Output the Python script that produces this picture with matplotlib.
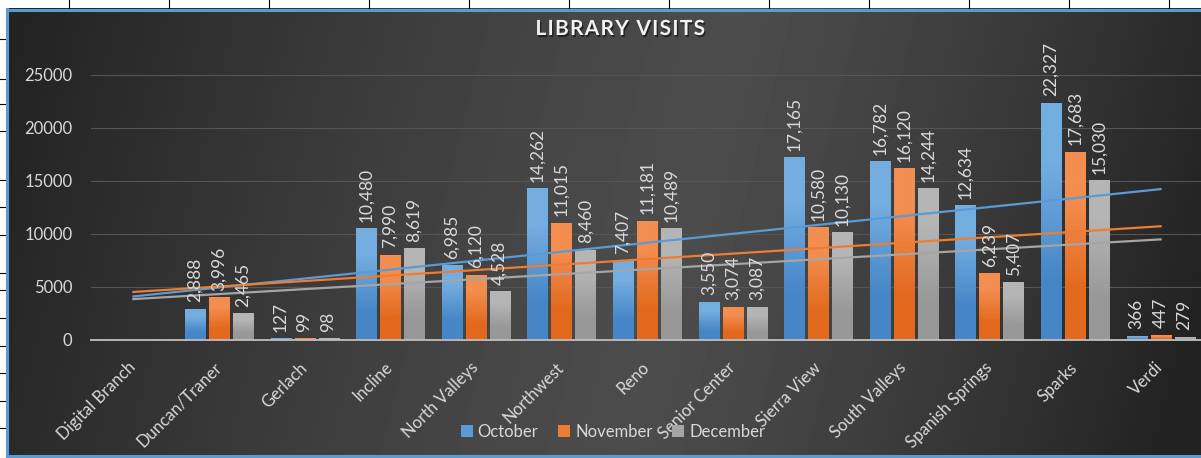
import numpy as np
import matplotlib
matplotlib.use('Agg')
import matplotlib.pyplot as plt
import matplotlib.patheffects as pe
from matplotlib.patches import Patch

plt.rcParams['font.family'] = ['Lato', 'DejaVu Sans']

# data (Digital Branch has no values)
branches = ['Digital Branch', 'Duncan/Traner', 'Gerlach', 'Incline', 'North Valleys',
            'Northwest', 'Reno', 'Senior Center', 'Sierra View', 'South Valleys',
            'Spanish Springs', 'Sparks', 'Verdi']
october = [np.nan, 2888, 127, 10480, 6985, 14262, 7407, 3550, 17165, 16782, 12634, 22327, 366]
november = [np.nan, 3996, 99, 7990, 6120, 11015, 11181, 3074, 10580, 16120, 6239, 17683, 447]
december = [np.nan, 2465, 98, 8619, 4528, 8460, 10489, 3087, 10130, 14244, 5407, 15030, 279]
months = ['October', 'November', 'December']
y_ticks = [0, 5000, 10000, 15000, 20000, 25000]

series = [october, november, december]
base_cols = ['#5B9BD5', '#ED7D31', '#A5A5A5']
grad_cols = [('#74ade0', '#4686c7'), ('#f38d50', '#e2691d'), ('#b5b5b5', '#989898')]
txt_col = '#d9d9d9'

W, H = 1201, 458
fig = plt.figure(figsize=(W / 100, H / 100), dpi=100, facecolor='white')

# background: spreadsheet strip + dark gradient chart area
bg = fig.add_axes([0, 0, 1, 1])
bg.set_xlim(0, W)
bg.set_ylim(H, 0)
bg.axis('off')
X, Y = np.meshgrid(np.arange(8, W), np.arange(9, 456))
xe = X + 0.25 * (Y - 230)
d = xe - 680
t = np.clip(np.where(d < 0, -d / 720, d / 540), 0, 1)
v = (0x22 + (0x4c - 0x22) * (1 - t ** 1.3)) / 255
bg.imshow(v, cmap='gray', vmin=0, vmax=1, extent=(8, W, 455.5, 9), aspect='auto',
          interpolation='bilinear')
for gx in range(69, W, 100):
    bg.plot([gx, gx], [0, 8], color='black', lw=0.8)
for gy in [39, 79, 104, 131, 180, 207, 235, 273, 290, 318, 346, 373, 401, 428]:
    bg.plot([0, 6], [gy, gy], color='black', lw=0.8)
bg.plot([7, 7], [9, 456], color='#5B9BD5', lw=2.2)
bg.plot([7, W], [9.5, 9.5], color='#5B9BD5', lw=2.2)
bg.plot([7, W], [455.5, 455.5], color='#5B9BD5', lw=2.2)

# main chart
ax = fig.add_axes([90.6 / W, 118 / H, (1203.4 - 90.6) / W, 291.9 / H])
ax.patch.set_alpha(0)
x = np.arange(1, len(branches) + 1)
offs = [-0.28, 0, 0.28]
bw = 0.234

for s, vals in enumerate(series):
    g = np.array([[matplotlib.colors.to_rgb(grad_cols[s][0])],
                  [matplotlib.colors.to_rgb(grad_cols[s][1])]])
    for xi, val in zip(x, vals):
        if np.isnan(val):
            continue
        x0 = xi + offs[s] - bw / 2
        ax.imshow(g, extent=(x0, x0 + bw, 0, val), aspect='auto',
                  interpolation='bilinear', zorder=2)
        ax.annotate(f'{val:,.0f}', (xi + offs[s], val), xytext=(0, 5),
                    textcoords='offset points', rotation=90, ha='center', va='bottom',
                    fontsize=12.5, color=txt_col, zorder=5)

# linear trendlines
for s, vals in enumerate(series):
    arr = np.array(vals, dtype=float)
    m = ~np.isnan(arr)
    coef = np.polyfit(x[m], arr[m], 1)
    ax.plot([x[0], x[-1]], np.polyval(coef, [x[0], x[-1]]), color=base_cols[s],
            lw=1.6, zorder=4)

ax.set_xlim(0.5, len(branches) + 0.5)
ax.set_ylim(0, 27500)
ax.set_yticks(y_ticks)
ax.grid(axis='y', color='#555555', lw=0.8, zorder=1)
ax.set_axisbelow(True)
for sp in ['top', 'right', 'left']:
    ax.spines[sp].set_visible(False)
ax.spines['bottom'].set_color('#bfbfbf')
ax.spines['bottom'].set_linewidth(1.3)
ax.spines['bottom'].set_zorder(3)
ax.tick_params(axis='both', length=0, colors=txt_col)
ax.tick_params(axis='y', pad=13, labelsize=12)
ax.tick_params(axis='x', pad=18, labelsize=12)
ax.set_xticks(x)
ax.set_xticklabels(branches, rotation=45, ha='right', va='center', rotation_mode='anchor')

handles = [Patch(facecolor=c) for c in base_cols]
fig.legend(handles, months, loc='center', bbox_to_anchor=(613 / W, 1 - 432 / H), ncol=3,
           frameon=False, fontsize=12, labelcolor=txt_col, handlelength=0.7,
           handleheight=0.7, handletextpad=0.3, columnspacing=1.2)

title = 'LIBRARY VISITS'
fig.text(620 / W, 1 - 29 / H, '\u200a'.join(title),
         ha='center', va='center', fontsize=15, fontweight='bold', color='#f2f2f2',
         path_effects=[pe.SimplePatchShadow(offset=(1, -1.5), shadow_rgbFace='black',
                                            alpha=0.5), pe.Normal()])

fig.savefig('out.png', dpi=100)
